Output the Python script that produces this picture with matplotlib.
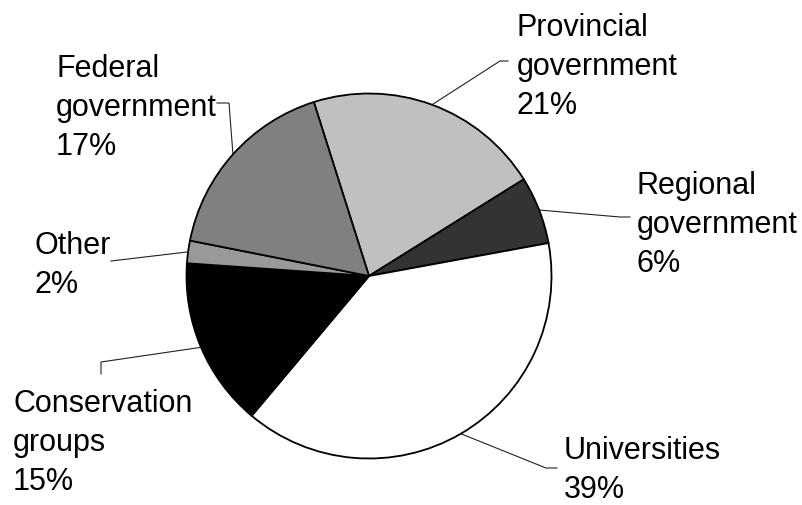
import numpy as np
import matplotlib
matplotlib.use("Agg")
import matplotlib.pyplot as plt

# Funding sources (share of total, %)
categories = ["Provincial\ngovernment", "Regional\ngovernment", "Universities",
              "Conservation\ngroups", "Other", "Federal\ngovernment"]
shares = [21, 6, 39, 15, 2, 17]
colors = ["#c0c0c0", "#333333", "#ffffff", "#000000", "#999999", "#808080"]

W, H = 802, 506
LINE_STEP = 39  # pixels between label baselines
plt.rcParams["font.family"] = ["Liberation Sans", "DejaVu Sans"]

fig = plt.figure(figsize=(W / 100, H / 100), dpi=100)
ax = fig.add_axes([0, 0, 1, 1])

cx, cy, r = 369, H - 277, 182.5
wedges, _ = ax.pie(shares, colors=colors, startangle=107.6, counterclock=False,
                   center=(cx, cy), radius=r,
                   wedgeprops=dict(edgecolor="black", linewidth=1.3))
ax.set_xlim(0, W)
ax.set_ylim(0, H)
ax.set_aspect("equal")
ax.axis("off")

# label anchor (x, first baseline in pixels from top) and leader-line bends
label_pos = [(517, 36), (637, 194), (564, 459), (13, 412), (34, 254), (56, 77)]
leader_pts = [
    [(500, 62), (508, 62)],
    [(620, 218), (630, 218)],
    [(546, 469), (557, 469)],
    [(101, 363), (101, 375)],
    [(111, 262)],
    [(229, 104), (217, 104)],
]

fs = 22
for w, cat, val, (lx, ly), pts in zip(wedges, categories, shares, label_pos, leader_pts):
    mid = np.deg2rad((w.theta1 + w.theta2) / 2)
    x0, y0 = cx + r * np.cos(mid), cy + r * np.sin(mid)
    xs = [x0] + [p[0] for p in pts]
    ys = [y0] + [H - p[1] for p in pts]
    ax.plot(xs, ys, color="#222222", linewidth=0.8, zorder=0.5)
    lines = cat.split("\n") + [f"{val}%"]
    for i, line in enumerate(lines):
        ax.text(lx, H - (ly + i * LINE_STEP), line, fontsize=fs, ha="left",
                va="baseline", color="black")

fig.savefig("out.png", dpi=100, facecolor="white")
